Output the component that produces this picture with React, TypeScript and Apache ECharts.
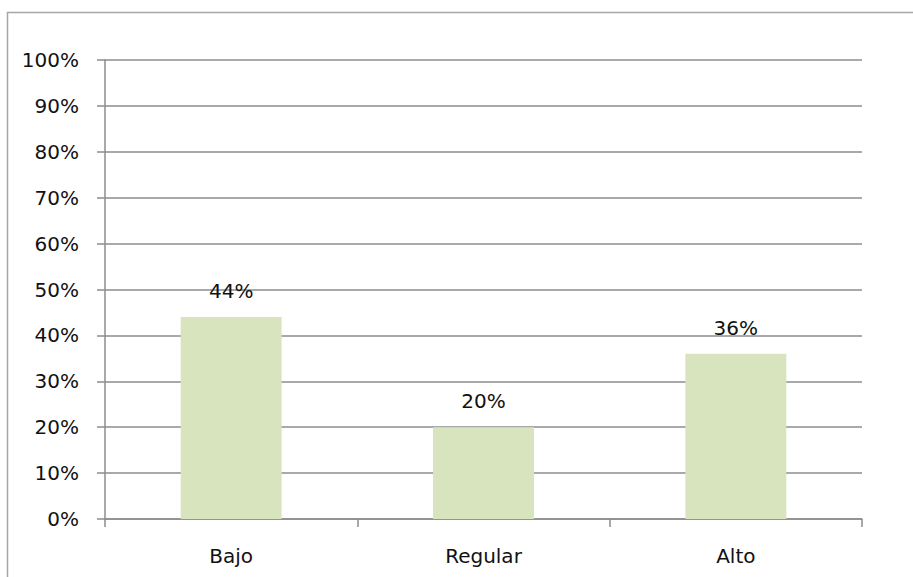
import React, { useEffect, useRef } from "react";
import * as echarts from "echarts";

const categories = ["Bajo", "Regular", "Alto"];
const values = [44, 20, 36];
const yTicks = [0, 10, 20, 30, 40, 50, 60, 70, 80, 90, 100];

const FONT = "'DejaVu Sans', Verdana, sans-serif";

export default function App() {
  const ref = useRef<HTMLDivElement>(null);
  useEffect(() => {
    if (!ref.current) return;
    const chart = echarts.init(ref.current, undefined, { renderer: "svg" });
    chart.setOption({
      animation: false,
      backgroundColor: "#ffffff",
      graphic: [
        {
          type: "rect",
          shape: { x: 7.5, y: 12.5, width: 920, height: 600 },
          style: { fill: "none", stroke: "#a6a6a6", lineWidth: 1.5 },
          silent: true,
        },
      ],
      grid: { left: 105, right: 51, top: 60, bottom: 58, containLabel: false },
      xAxis: {
        type: "category",
        data: categories,
        boundaryGap: true,
        axisLine: { show: true, lineStyle: { color: "#8c8c8c", width: 1.5 } },
        axisTick: { show: true, length: 8, alignWithLabel: false, lineStyle: { color: "#8c8c8c", width: 1.5 } },
        axisLabel: { color: "#111111", fontSize: 20, fontFamily: FONT, margin: 27 },
        splitLine: { show: false },
      },
      yAxis: {
        type: "value",
        min: yTicks[0],
        max: yTicks[yTicks.length - 1],
        interval: 10,
        axisLine: { show: true, lineStyle: { color: "#8c8c8c", width: 1.5 } },
        axisTick: { show: true, length: 8, lineStyle: { color: "#8c8c8c", width: 1.5 } },
        axisLabel: {
          color: "#111111",
          fontSize: 20,
          fontFamily: FONT,
          margin: 26,
          formatter: (v: number) => `${v}%`,
        },
        splitLine: { show: true, lineStyle: { color: "#8c8c8c", width: 1.5 } },
      },
      series: [
        {
          type: "bar",
          data: values,
          barWidth: "40%",
          itemStyle: { color: "#d7e4bd" },
          label: {
            show: true,
            position: "top",
            distance: 16,
            color: "#111111",
            fontSize: 20,
            fontFamily: FONT,
            formatter: (p: any) => `${p.value}%`,
          },
        },
      ],
    });
    return () => chart.dispose();
  }, []);
  return (
    <div
      ref={ref}
      style={{ position: "fixed", left: 0, top: 0, width: 913, height: 577, background: "#fff" }}
    />
  );
}
